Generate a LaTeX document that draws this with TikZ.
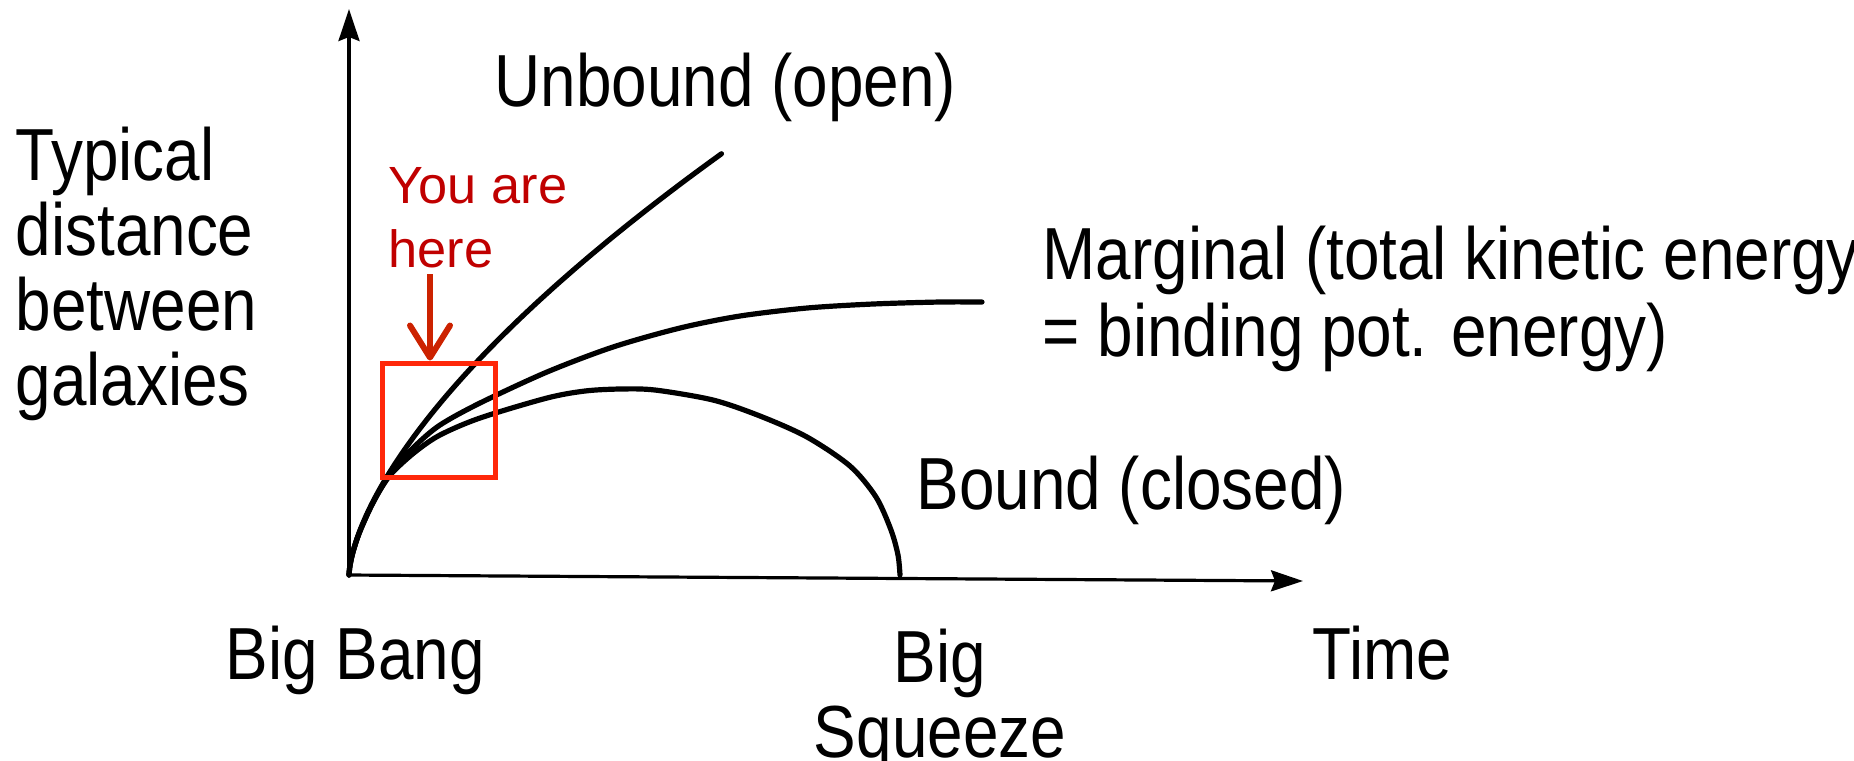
\documentclass[tikz,border=0pt]{standalone}
\usepackage{fontspec}
\setmainfont{Liberation Sans}
\newfontfamily\narrowsans{Liberation Sans}[FakeStretch=0.865]
\usetikzlibrary{arrows.meta}
\definecolor{NoteRed}{RGB}{192,0,0}
\definecolor{BoxRed}{RGB}{255,40,10}
\definecolor{ArrowRed}{RGB}{204,34,0}
\tikzset{
  axisarrow/.style={-{Stealth[length=3.2mm,width=2.1mm,inset=0.4mm]}, line width=0.32mm},
  trajectory/.style={line width=0.52mm, line join=round, line cap=round},
  plotlabel/.style={anchor=base west, inner sep=0pt, align=left,
    font=\narrowsans\fontsize{21}{21.3}\selectfont},
  herenote/.style={anchor=base west, inner sep=0pt, align=left, text=NoteRed,
    font=\fontsize{14.9}{18.1}\selectfont},
  herebox/.style={draw=BoxRed, line width=0.5mm, minimum width=11.3mm,
    minimum height=11.4mm, inner sep=0pt},
  herearrow/.style={draw=ArrowRed, line width=0.6mm,
    -{Straight Barb[length=3.2mm,width=4mm,round]}}
}

\begin{document}
\begin{tikzpicture}[x=0.1mm, y=-0.1mm]
  \useasboundingbox (0,0) rectangle (1854,760);
  % axes
  \coordinate (origin) at (349,575);
  \coordinate (ytip) at (349,9);
  \coordinate (xtip) at (1303,581);
  \draw[axisarrow] (origin) -- (ytip);
  \draw[axisarrow] (origin) -- (xtip);
  % open universe
  \draw[trajectory] plot[domain=0.01:19.3, samples=90, smooth]
    ({349+\x*\x},{575-9.7*(\x)^1.274});
  % marginal
  \draw[trajectory] plot[smooth] coordinates {(349,575) (350,565.4) (353,551.9)
    (359,533.6) (369,510.7) (379,491.7) (392,471) (415,446) (440,425)
    (480,403) (547,372) (613,347) (680,328) (740,316) (807,308) (873,304)
    (940,302) (982,302)};
  % closed universe
  \draw[trajectory] plot[smooth] coordinates {(349,575) (350,565.4) (353,551.9)
    (359,533.6) (369,510.7) (379,491.7) (392,473) (415,452) (440,435)
    (480,418) (547,398) (585,391) (620,389) (655,390) (713,400) (760,416)
    (807,437) (850,466) (876,497) (891,530) (898,555) (900,575)};
  % labels
  \node[plotlabel] (ylabel) at (15,405) {Typical\\distance\\between\\galaxies};
  \node[plotlabel] (unbound) at (494,106) {Unbound (open)};
  \node[plotlabel, font=\narrowsans\fontsize{21}{21.8}\selectfont] (marginal)
    at (1042,356) {Marginal (total kinetic energy\\= binding pot. energy)};
  \node[plotlabel] (bound) at (916,509) {Bound (closed)};
  \node[plotlabel] (bigbang) at (225,679) {Big Bang};
  \node[plotlabel, anchor=base, align=center] (squeeze) at (940,757) {Big\\Squeeze};
  \node[plotlabel] (time) at (1312,679) {Time};
  % you are here
  \node[herebox] (nowbox) at (438.5,420) {};
  \node[herenote] (you) at (388,267) {You are\\here};
  \coordinate (arrowtop) at (430,274);
  \draw[herearrow] (arrowtop) -- (arrowtop |- nowbox.north);
\end{tikzpicture}
\end{document}
